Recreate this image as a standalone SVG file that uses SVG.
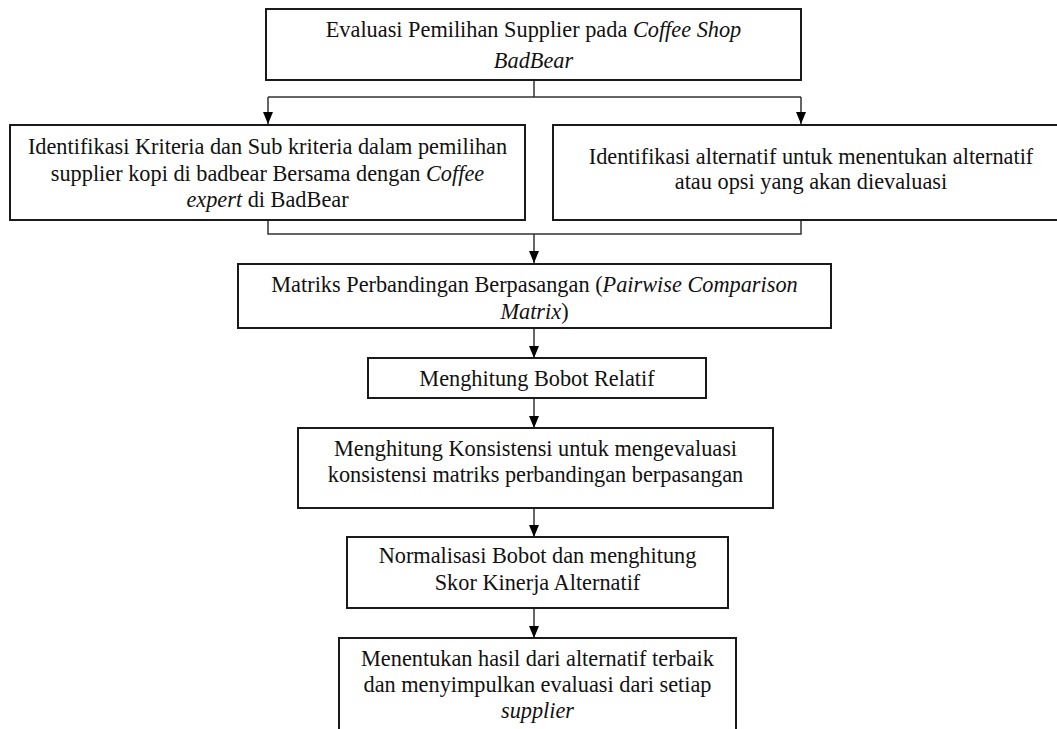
<svg xmlns="http://www.w3.org/2000/svg" width="1057" height="729" viewBox="0 0 1057 729" font-family="'Liberation Serif', 'DejaVu Serif', serif">
<defs>
<style>
.box{fill:#fff;stroke:#1a1a1a;stroke-width:2}
.t{font-family:'Liberation Serif','DejaVu Serif',serif;font-size:22.3px;fill:#111;text-anchor:middle}
.i{font-style:italic}
.c{fill:none;stroke:#333;stroke-width:1.5}
</style>
<marker id="ah" markerWidth="12" markerHeight="10" refX="12" refY="5" orient="auto" markerUnits="userSpaceOnUse" viewBox="0 0 12 10">
<path d="M0,0 L12,5 L0,10 Z" fill="#000"/>
</marker>
</defs>
<rect width="1057" height="729" fill="#fff"/>
<g id="connectors">
<path class="c" d="M534,80 V97 M268,97 H801"/>
<path class="c" d="M268,97 V124" marker-end="url(#ah)"/>
<path class="c" d="M801,97 V124" marker-end="url(#ah)"/>
<path class="c" d="M268,220 V234 H801 V220"/>
<path class="c" d="M534,234 V263" marker-end="url(#ah)"/>
<path class="c" d="M534,328 V358" marker-end="url(#ah)"/>
<path class="c" d="M534,398 V428" marker-end="url(#ah)"/>
<path class="c" d="M534,508 V537" marker-end="url(#ah)"/>
<path class="c" d="M534,608 V638" marker-end="url(#ah)"/>
</g>
<g id="n1">
<rect class="box" x="266" y="9" width="535" height="71"/>
<text class="t" x="533.5" y="37">Evaluasi Pemilihan Supplier pada <tspan class="i">Coffee Shop</tspan></text>
<text class="t i" x="533.5" y="68">BadBear</text>
</g>
<g id="n2">
<rect class="box" x="10" y="125" width="515" height="95"/>
<text class="t" x="267.5" y="154">Identifikasi Kriteria dan Sub kriteria dalam pemilihan</text>
<text class="t" x="267.5" y="181">supplier kopi di badbear Bersama dengan <tspan class="i">Coffee</tspan></text>
<text class="t" x="267.5" y="207"><tspan class="i">expert</tspan> di BadBear</text>
</g>
<g id="n3">
<rect class="box" x="553" y="125" width="518" height="95"/>
<text class="t" x="811" y="164">Identifikasi alternatif untuk menentukan alternatif</text>
<text class="t" x="811" y="189">atau opsi yang akan dievaluasi</text>
</g>
<g id="n4">
<rect class="box" x="238" y="264" width="593" height="64"/>
<text class="t" x="534.5" y="292">Matriks Perbandingan Berpasangan (<tspan class="i">Pairwise Comparison</tspan></text>
<text class="t" x="534.5" y="319"><tspan class="i">Matrix</tspan>)</text>
</g>
<g id="n5">
<rect class="box" x="368" y="358" width="338" height="40"/>
<text class="t" x="537" y="386">Menghitung Bobot Relatif</text>
</g>
<g id="n6">
<rect class="box" x="298" y="428" width="475" height="80"/>
<text class="t" x="535.5" y="456">Menghitung Konsistensi untuk mengevaluasi</text>
<text class="t" x="535.5" y="482">konsistensi matriks perbandingan berpasangan</text>
</g>
<g id="n7">
<rect class="box" x="347" y="537" width="381" height="71"/>
<text class="t" x="537.5" y="563">Normalisasi Bobot dan menghitung</text>
<text class="t" x="537.5" y="590">Skor Kinerja Alternatif</text>
</g>
<g id="n8">
<rect class="box" x="339" y="638" width="397" height="100"/>
<text class="t" x="537.5" y="666">Menentukan hasil dari alternatif terbaik</text>
<text class="t" x="537.5" y="692">dan menyimpulkan evaluasi dari setiap</text>
<text class="t i" x="537.5" y="718">supplier</text>
</g>
</svg>
